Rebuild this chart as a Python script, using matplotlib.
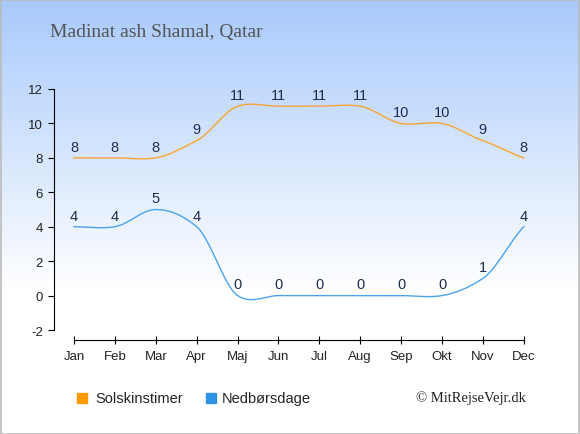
import numpy as np
import matplotlib
matplotlib.use("Agg")
import matplotlib.pyplot as plt
from matplotlib.patches import Rectangle

plt.rcParams['axes.unicode_minus'] = False

months = ['Jan', 'Feb', 'Mar', 'Apr', 'Maj', 'Jun', 'Jul', 'Aug', 'Sep', 'Okt', 'Nov', 'Dec']
sun_hours = [8, 8, 8, 9, 11, 11, 11, 11, 10, 10, 9, 8]
rain_days = [4, 4, 5, 4, 0, 0, 0, 0, 0, 0, 1, 4]

sun_color = '#f9a431'
rain_color = '#4aa3ef'
label_color = '#1f2d4d'


def smooth(y, k=0.4, n=30):
    # cardinal spline through the points
    y = np.asarray(y, dtype=float)
    m = np.zeros_like(y)
    m[1:-1] = k * (y[2:] - y[:-2])
    m[0] = 2 * k * (y[1] - y[0])
    m[-1] = 2 * k * (y[-1] - y[-2])
    xs, ys = [], []
    for i in range(len(y) - 1):
        t = np.linspace(0, 1, n, endpoint=False)
        h00 = 2 * t**3 - 3 * t**2 + 1
        h10 = t**3 - 2 * t**2 + t
        h01 = -2 * t**3 + 3 * t**2
        h11 = t**3 - t**2
        xs.append(i + t)
        ys.append(h00 * y[i] + h10 * m[i] + h01 * y[i + 1] + h11 * m[i + 1])
    xs.append([len(y) - 1])
    ys.append([y[-1]])
    return np.concatenate(xs), np.concatenate(ys)


fig = plt.figure(figsize=(5.8, 4.35), dpi=100)

# background gradient
bg = fig.add_axes([0, 0, 1, 1], zorder=-10)
h = 435
g = np.clip(np.arange(h) / 290.0, 0, 1)
top = np.array([0.66, 0.79, 0.99])
cols = top[None, :] * (1 - g[:, None]) + np.ones(3)[None, :] * g[:, None]
bg.imshow(cols[:, None, :], aspect='auto', extent=[0, 1, 0, 1])
bg.axis('off')
fig.patches.append(Rectangle((0.001, 0.001), 0.997, 0.997, transform=fig.transFigure,
                             fill=False, edgecolor='#bbbbbb', lw=1.2))

ax = fig.add_axes([54 / 580, 1 - 341 / 435, 478 / 580, 251 / 435])
ax.patch.set_alpha(0)
x = np.arange(len(months))

sx, sy = smooth(sun_hours)
ax.plot(sx, sy, color=sun_color, lw=1.0)
rx, ry = smooth(rain_days)
ax.plot(rx, ry, color=rain_color, lw=1.0)

for xi, v in zip(x, sun_hours):
    ax.annotate(str(v), (xi, v), xytext=(0, 3), textcoords='offset points',
                ha='center', va='bottom', fontsize=10.5, color=label_color,
                family='Liberation Sans', annotation_clip=False)
for xi, v in zip(x, rain_days):
    ax.annotate(str(v), (xi, v), xytext=(0, 3), textcoords='offset points',
                ha='center', va='bottom', fontsize=10.5, color=label_color,
                family='Liberation Sans', annotation_clip=False)

ax.set_xlim(-0.49, 11.2)
ax.set_ylim(-2.58, 12)
ax.set_xticks(x)
ax.set_xticklabels(months)
ax.set_yticks(range(-2, 13, 2))
for s in ['top', 'right']:
    ax.spines[s].set_visible(False)
ax.spines['left'].set_bounds(-2, 12)
ax.spines['bottom'].set_bounds(0, 11)
ax.tick_params(axis='x', direction='inout', length=6, pad=4, labelsize=9.5,
               labelcolor='#222222')
ax.tick_params(axis='y', direction='out', length=4, pad=4, labelsize=9.5,
               labelcolor='#222222')
for lab in ax.get_xticklabels() + ax.get_yticklabels():
    lab.set_family('Liberation Sans')

fig.text(50 / 580, 1 - 32 / 435, 'Madinat ash Shamal, Qatar', family='Liberation Serif',
         fontsize=14, color='#555555', ha='left', va='center')

# legend
fig.patches.append(Rectangle((77 / 580, 1 - 404 / 435), 10 / 580, 10 / 435,
                             transform=fig.transFigure, color='#ff9900'))
fig.text(95 / 580, 1 - 399 / 435, 'Solskinstimer', family='Liberation Sans',
         fontsize=10.5, color='#222222', va='center')
fig.patches.append(Rectangle((206 / 580, 1 - 404 / 435), 10 / 580, 10 / 435,
                             transform=fig.transFigure, color='#2e93e6'))
fig.text(222 / 580, 1 - 399 / 435, 'Nedbørsdage', family='Liberation Sans',
         fontsize=10.5, color='#222222', va='center')
fig.text(526 / 580, 1 - 398 / 435, '© MitRejseVejr.dk', family='Liberation Serif',
         fontsize=10.5, color='#222222', va='center', ha='right')

fig.savefig('out.png', dpi=100)
